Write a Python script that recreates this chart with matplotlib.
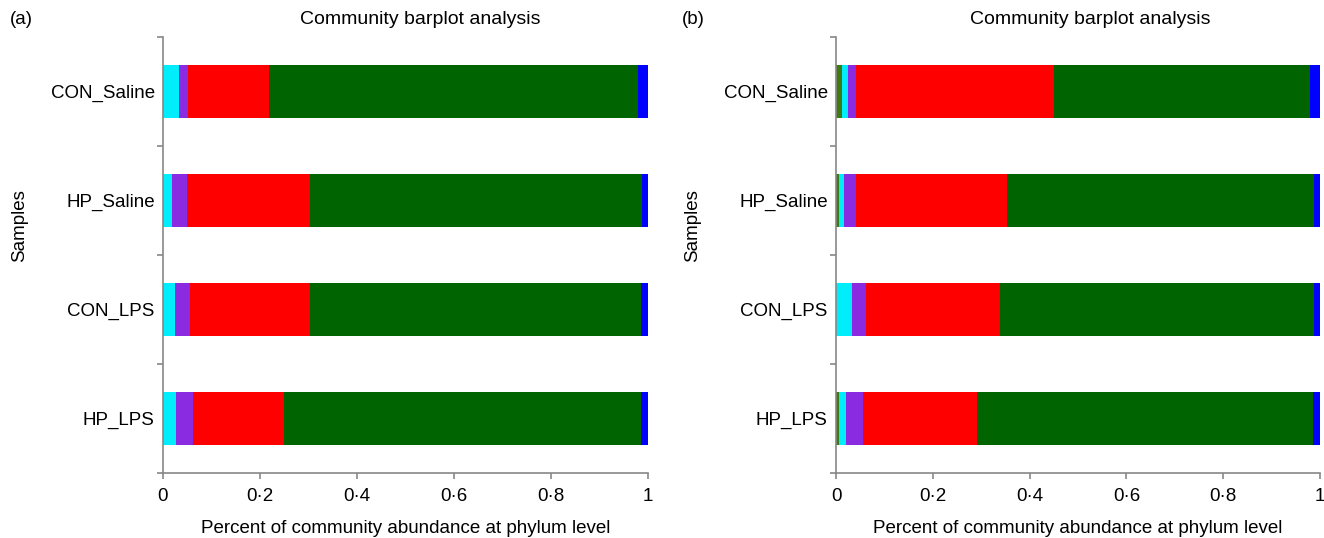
import numpy as np
import matplotlib
matplotlib.use("Agg")
import matplotlib.pyplot as plt

plt.rcParams['font.family'] = ['Liberation Sans', 'DejaVu Sans']

samples = ["CON_Saline", "HP_Saline", "CON_LPS", "HP_LPS"]
phyla = ["Other", "Cyan phylum", "Purple phylum", "Red phylum", "Green phylum", "Blue phylum"]
colors = ["#3f7a12", "#00eefc", "#8a2be2", "#ff0000", "#006400", "#0000ff"]

# panel (a) abundances, one list per phylum, in sample order
a_other = [0.0, 0.0, 0.0, 0.0]
a_cyan = [0.034, 0.018, 0.025, 0.027]
a_purple = [0.018, 0.031, 0.031, 0.035]
a_red = [0.167, 0.254, 0.247, 0.188]
a_green = [0.760, 0.685, 0.682, 0.735]
a_blue = [0.021, 0.012, 0.015, 0.015]

# panel (b)
b_other = [0.012, 0.007, 0.0, 0.007]
b_cyan = [0.013, 0.010, 0.034, 0.014]
b_purple = [0.016, 0.024, 0.027, 0.035]
b_red = [0.409, 0.312, 0.278, 0.235]
b_green = [0.529, 0.635, 0.649, 0.695]
b_blue = [0.021, 0.012, 0.012, 0.014]

xticks = [0, 0.2, 0.4, 0.6, 0.8, 1]
xticklabels = ["0", "0·2", "0·4", "0·6", "0·8", "1"]

FS = 13.5

fig = plt.figure(figsize=(13.24, 5.38), dpi=100)
ax_a = fig.add_axes([163 / 1324, 1 - 473 / 538, 485 / 1324, 436 / 538])
ax_b = fig.add_axes([836 / 1324, 1 - 473 / 538, 484 / 1324, 436 / 538])


def draw_panel(ax, series):
    y = np.arange(len(samples))
    left = np.zeros(len(samples))
    for vals, c in zip(series, colors):
        vals = np.array(vals)
        ax.barh(y, vals, left=left, height=0.49, color=c, edgecolor='none')
        left += vals
    ax.set_ylim(len(samples) - 0.5, -0.5)
    ax.set_xlim(0, 1)
    ax.set_yticks(np.arange(-0.5, len(samples), 1.0))
    ax.set_yticklabels([])
    ax.set_yticks(y, minor=True)
    ax.set_yticklabels(samples, minor=True, fontsize=FS)
    ax.tick_params(axis='y', which='minor', length=0, pad=6)
    ax.tick_params(axis='y', which='major', length=4.5, color='#888888', width=1.2)
    ax.set_xticks(xticks)
    ax.set_xticklabels(xticklabels, fontsize=FS)
    ax.tick_params(axis='x', length=4.5, color='#888888', width=1.2, pad=6)
    for s in ['top', 'right']:
        ax.spines[s].set_visible(False)
    for s in ['left', 'bottom']:
        ax.spines[s].set_color('#888888')
        ax.spines[s].set_linewidth(1.2)
    ax.set_xlabel("Percent of community abundance at phylum level", fontsize=FS, labelpad=11)


draw_panel(ax_a, [a_other, a_cyan, a_purple, a_red, a_green, a_blue])
draw_panel(ax_b, [b_other, b_cyan, b_purple, b_red, b_green, b_blue])

fig.text(20 / 1324, 1 - 226 / 538, "Samples", fontsize=FS, rotation=90, va='center', ha='center')
fig.text(693 / 1324, 1 - 226 / 538, "Samples", fontsize=FS, rotation=90, va='center', ha='center')
fig.text(10 / 1324, 1 - 19 / 538, "(a)", fontsize=FS, va='center', ha='left')
fig.text(682 / 1324, 1 - 19 / 538, "(b)", fontsize=FS, va='center', ha='left')
fig.text(420 / 1324, 1 - 19 / 538, "Community barplot analysis", fontsize=14, va='center', ha='center')
fig.text(1090 / 1324, 1 - 19 / 538, "Community barplot analysis", fontsize=14, va='center', ha='center')

fig.savefig("out.png", dpi=100)
